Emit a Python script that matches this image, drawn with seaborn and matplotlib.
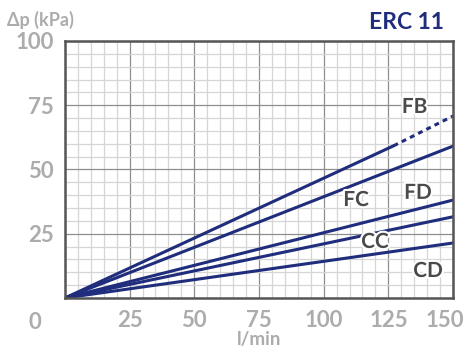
import pandas as pd
import seaborn as sns
import matplotlib.pyplot as plt
import matplotlib.ticker as ticker
import matplotlib.patheffects as pe
import matplotlib.transforms as mtrans

# curve data: flow (l/min) vs pressure drop (kPa)
fb_flow = [0, 127]
fb_dp = [0, 59.2]
fb_ext_flow = [127, 150]
fb_ext_dp = [59.2, 70.8]
fc_flow = [0, 150]
fc_dp = [0, 59.1]
fd_flow = [0, 150]
fd_dp = [0, 38.1]
cc_flow = [0, 150]
cc_dp = [0, 31.6]
cd_flow = [0, 150]
cd_dp = [0, 21.4]

labels = ["FB", "FC", "FD", "CC", "CD"]
label_pos = [(135.1, 74.3), (112.5, 38.1), (136.4, 40.9), (119.8, 21.8), (140.3, 10.5)]
x_ticks = [25, 50, 75, 100, 125, 150]
y_ticks = [25, 50, 75, 100]

navy = "#1f2d7c"
grey = "#acacac"
dark = "#4a4a4a"

sns.set_style("white")
plt.rcParams['font.family'] = ['Lato', 'DejaVu Sans']

fig = plt.figure(figsize=(4.7, 3.58), dpi=100)
ax = fig.add_axes([0.138, 0.1676, 0.826, 0.718])

solid = pd.DataFrame({
    "flow": fb_flow + fc_flow + fd_flow + cc_flow + cd_flow,
    "dp": fb_dp + fc_dp + fd_dp + cc_dp + cd_dp,
    "curve": ["FB"] * 2 + ["FC"] * 2 + ["FD"] * 2 + ["CC"] * 2 + ["CD"] * 2,
})
sns.lineplot(data=solid, x="flow", y="dp", units="curve", estimator=None,
             color=navy, lw=2.2, ax=ax, zorder=3)
ext = pd.DataFrame({"flow": fb_ext_flow, "dp": fb_ext_dp})
sns.lineplot(data=ext, x="flow", y="dp", color=navy, lw=2.2,
             linestyle=(0, (1.6, 1.4)), ax=ax, zorder=3)

ax.set_xlim(0, 150)
ax.set_ylim(0, 100)

# grid: major every 25, minor every 5
ax.xaxis.set_major_locator(ticker.FixedLocator(x_ticks))
ax.yaxis.set_major_locator(ticker.FixedLocator(y_ticks))
ax.xaxis.set_minor_locator(ticker.MultipleLocator(5))
ax.yaxis.set_minor_locator(ticker.MultipleLocator(5))
ax.grid(which="minor", color="#d6d6d6", lw=0.9, zorder=0)
ax.grid(which="major", color="#8e8e8e", lw=0.9, zorder=1)
ax.set_axisbelow(True)
ax.tick_params(which="both", length=0)
ax.tick_params(axis="x", pad=9)
ax.tick_params(axis="y", pad=8)
for lab in ax.get_xticklabels() + ax.get_yticklabels():
    lab.set_fontsize(16)
    lab.set_fontweight("bold")
    lab.set_color(grey)
# last x label pulled in so it stays inside the figure
last = ax.get_xticklabels()[-1]
last.set_transform(last.get_transform() +
                   mtrans.ScaledTranslation(-8 / 100, 0, fig.dpi_scale_trans))

for s in ax.spines.values():
    s.set_color("#555555")
    s.set_linewidth(1.8)
    s.set_zorder(5)

ax.set_xlabel("l/min", fontsize=13.5, fontweight="bold", color=grey, labelpad=0)
ax.set_ylabel("")
ax.text(-0.077, -0.055, "0", transform=ax.transAxes, ha="center", va="top",
        fontsize=16, fontweight="bold", color=grey)
fig.text(0.015, 0.945, "Δp (kPa)", fontsize=13, fontweight="bold", color=grey,
         ha="left", va="center")
fig.text(0.944, 0.937, "ERC 11", fontsize=16.5, fontweight="bold", color=navy,
         ha="right", va="center")

for name, (x, y) in zip(labels, label_pos):
    ax.text(x, y, name, fontsize=15, fontweight="bold", color=dark, ha="center",
            va="center", zorder=6,
            path_effects=[pe.withStroke(linewidth=3, foreground="white")])

plt.savefig("out.png", dpi=100)
